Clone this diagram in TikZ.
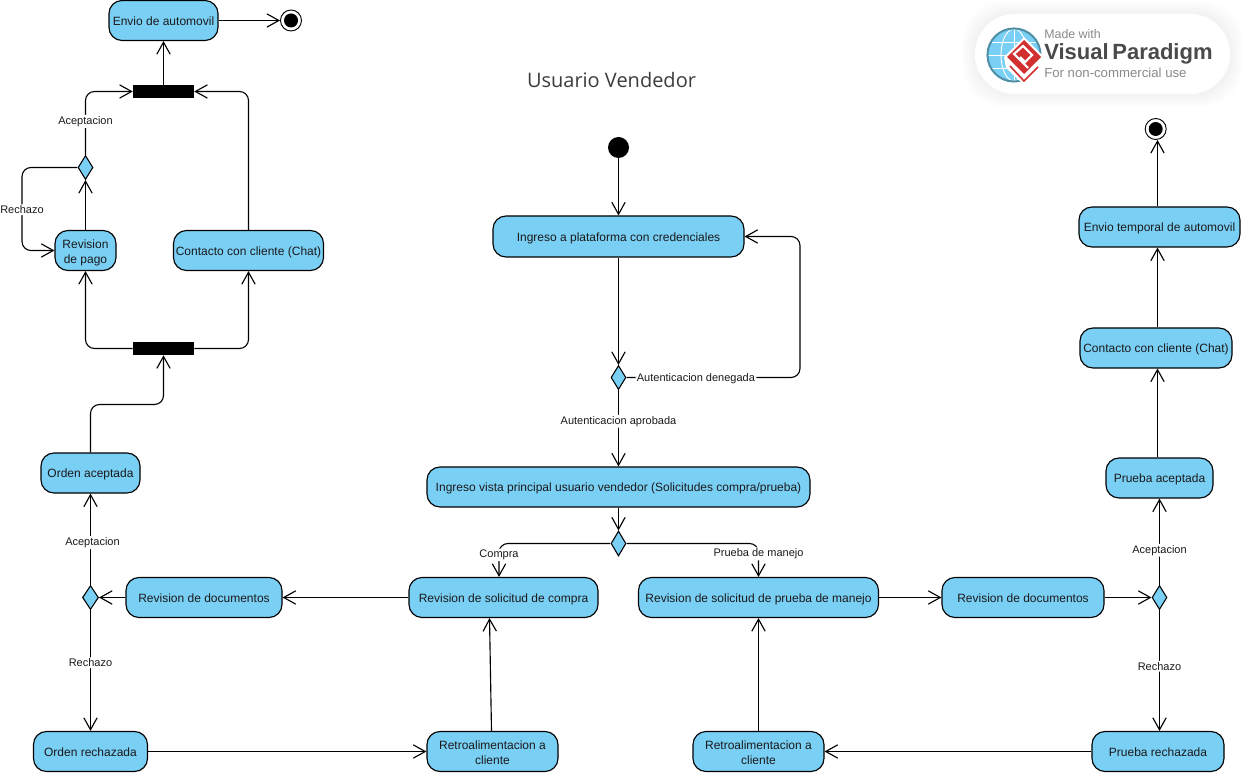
\documentclass[tikz,border=0pt]{standalone}
\usepackage{fontspec}
\setmainfont{Liberation Sans}
\newfontfamily\titlefont{Open Sans}
\usetikzlibrary{arrows.meta,shapes.geometric}
\definecolor{actfill}{HTML}{7ACFF5}
\definecolor{inkc}{HTML}{1A1A1A}
\definecolor{logogray}{HTML}{8A8A8A}
\definecolor{logodark}{HTML}{4A4A4A}
\definecolor{logored}{HTML}{D2302F}
\definecolor{logoteal}{HTML}{4F8FA6}
\def\px{0.75pt}
\newcommand{\twolinedown}{\rule{0pt}{10.5pt}}
\tikzset{
  act/.style={draw=black,fill=actfill,line width=0.85pt,rounded corners=13*\px,inner sep=0pt,align=center,text=inkc,font=\fontsize{9}{11.25}\selectfont,minimum height=40*\px,
    execute at begin node={\rule{0pt}{9.2pt}},execute at end node={\rule[-2.4pt]{0pt}{2.4pt}}},
  dec/.style={draw=black,fill=actfill,line width=0.8pt,diamond,aspect=0.6,inner sep=0pt,minimum width=15*\px,minimum height=24*\px},
  forkbar/.style={fill=black,draw=none,inner sep=0pt,minimum width=61*\px,minimum height=13*\px},
  flow/.style={draw=black,line width=0.85pt,rounded corners=9*\px,-{Straight Barb[length=9pt,width=10pt,line width=0.85pt]}},
  lab/.style={fill=white,inner sep=1pt,text=inkc,yshift=-0.5pt,font=\fontsize{8.25}{9.5}\selectfont},
  startn/.style={circle,fill=black,inner sep=0pt,minimum size=21*\px},
  endn/.style={circle,draw=black,fill=white,line width=0.7pt,inner sep=0pt,minimum size=21*\px},
  endcore/.style={circle,fill=black,inner sep=0pt,minimum size=14*\px},
}
\begin{document}
\begin{tikzpicture}[x=0.75pt,y=-0.75pt]
\useasboundingbox (0,0) rectangle (1242,773);
\fill[white] (0,0) rectangle (1242,773);

% title
\node[font=\titlefont\fontsize{15}{18}\selectfont,text=inkc!85!white] (title) at (611.5,80) {Usuario Vendedor};

% badge
\foreach \g in {12,9,6,3}{
  \fill[black,opacity=0.012,rounded corners=30pt] (975-\g,14-\g) rectangle (1230+\g,94+\g);
}
\fill[white,rounded corners=30pt] (975,14) rectangle (1230,94);
\fill[actfill] (1014,55) circle (19.5pt);
\begin{scope}
  \clip (1014,55) circle (19.5pt);
  \draw[white,line width=0.7pt] (1014,28) -- (1014,82) (988,55) -- (1040,55) (990,42) -- (1038,42) (990,68) -- (1038,68);
  \draw[white,line width=0.7pt] (1014,55) ellipse (9.75pt and 19.5pt);
\end{scope}
\draw[logoteal,line width=1.5pt] (1014,55) circle (19.9pt);
\fill[white] (1024,37) -- (1044,57) -- (1040,70) -- (1024,85) -- (1006,68) -- (1004,57) -- cycle;
\fill[logored] (1024,40) -- (1041,57) -- (1024,74) -- (1007,57) -- cycle;
\draw[logored,line width=1.2pt] (1010,66) -- (1024,81) -- (1038,67);
\draw[white,line width=1.6pt,line join=miter] (1028,68) -- (1014,54) -- (1023,46) -- (1032,55) -- (1025,62) -- (1020,57);
\node[anchor=west,inner sep=0pt,text=logogray,font=\fontsize{9.3}{11}\selectfont] (lg1) at (1044,34.5) {Made with};
\node[anchor=west,inner sep=0pt,text=logodark,font=\bfseries\fontsize{16.5}{18}\selectfont] (lg2) at (1044,53.5) {Visual\,Paradigm};
\node[anchor=west,inner sep=0pt,text=logogray,font=\fontsize{9.9}{11}\selectfont] (lg3) at (1044,73) {For non-commercial use};

% left column
\node[act,minimum width=109*\px] (envio) at (163.5,20.5) {Envio de automovil};
\node[endn] (endA) at (291,20.5) {};
\node[endcore] (endAc) at (291,20.5) {};
\node[forkbar] (barT) at (163.5,91.5) {};
\node[dec] (decT) at (85.5,167.5) {};
\node[act,minimum width=61*\px] (pago) at (85.5,250.5) {\twolinedown Revision\\de pago};
\node[act,minimum width=150*\px] (chatL) at (248.5,250.5) {Contacto con cliente (Chat)};
\node[forkbar] (barB) at (163.5,348.5) {};
\node[act,minimum width=99*\px] (oacep) at (90.5,473) {Orden aceptada};
\node[dec,minimum width=16*\px] (decL) at (90.5,597.5) {};
\node[act,minimum width=156*\px] (docsL) at (204,597.5) {Revision de documentos};
\node[act,minimum width=114*\px] (orech) at (90.5,751.5) {Orden rechazada};
\node[act,minimum width=131*\px] (retroL) at (492.5,751.5) {\twolinedown Retroalimentacion a\\cliente};

% centre column
\node[startn] (start) at (618.5,147.5) {};
\node[act,minimum width=251*\px,minimum height=41*\px] (login) at (618.5,236.5) {Ingreso a plataforma con credenciales};
\node[dec] (decM) at (618.5,377.5) {};
\node[act,minimum width=383*\px] (vista) at (618.5,487) {Ingreso vista principal usuario vendedor (Solicitudes compra/prueba)};
\node[dec,minimum height=25*\px] (decS) at (618.5,543.5) {};
\node[act,minimum width=189*\px] (rcompra) at (503.5,597.5) {Revision de solicitud de compra};
\node[act,minimum width=240*\px] (rprueba) at (758.5,597.5) {Revision de solicitud de prueba de manejo};

% right column
\node[act,minimum width=162*\px] (docsR) at (1023,597.5) {Revision de documentos};
\node[dec] (decR) at (1159.5,597.5) {};
\node[act,minimum width=107*\px] (pacep) at (1159.5,478) {Prueba aceptada};
\node[act,minimum width=152*\px] (chatR) at (1156,348) {Contacto con cliente (Chat)};
\node[act,minimum width=161*\px] (envioT) at (1159.5,227) {Envio temporal de automovil};
\node[endn] (endB) at (1155.7,129) {};
\node[endcore] (endBc) at (1155.7,129) {};
\node[act,minimum width=132*\px] (prech) at (1158,751.5) {Prueba rechazada};
\node[act,minimum width=131*\px] (retroR) at (758.5,751.5) {\twolinedown Retroalimentacion a\\cliente};

% free corner points
\coordinate (cDen) at (800,377.5);
\coordinate (cAcL) at (163.5,404.5);
\coordinate (cRe1) at (22,167.5);
\coordinate (cRe2) at (22,250.5);
\coordinate (cCom) at (499,543.5);
\coordinate (cPru) at (758.5,543.5);
\coordinate (rx) at (1157.5,300);

% connectors: upper left
\draw[flow] (envio.east) -- (endA.west);
\draw[flow] (barT.north) -- (envio.south);
\draw[flow] (decT.north) |- node[lab,pos=0.27] {Aceptacion} (barT.west);
\draw[flow] (chatL.north) |- (barT.east);
\draw[flow] (pago.north) -- (decT.south);
\draw[flow] (decT.west) -- (cRe1) -- node[lab,pos=0.5] {Rechazo} (cRe2) -- (pago.west);
\draw[flow] (barB.west) -| (pago.south);
\draw[flow] (barB.east) -| (chatL.south);
\draw[flow] (oacep.north) |- (cAcL) -- (barB.south);

% connectors: lower left
\draw[flow] (decL.north) -- node[lab,pos=0.47,xshift=1.5pt] {Aceptacion} (oacep.south);
\draw[flow] (decL.south) -- node[lab,pos=0.43] {Rechazo} (orech.north);
\draw[flow] (docsL.west) -- (decL.east);
\draw[flow] (rcompra.west) -- (docsL.east);
\draw[flow] (orech.east) -- (retroL.west);
\draw[flow] ([xshift=-1*\px]retroL.north) -- ([xshift=-14*\px]rcompra.south);

% connectors: centre
\draw[flow] (start.south) -- (login.north);
\draw[flow] (login.south) -- (decM.north);
\draw[flow] (decM.east) -- node[lab,pos=0.40] {Autenticacion denegada} (cDen) |- (login.east);
\draw[flow] (decM.south) -- node[lab,pos=0.40] {Autenticacion aprobada} (vista.north);
\draw[flow] (vista.south) -- (decS.north);
\draw[flow] (decS.west) -- (cCom) -- node[lab,pos=0.32] {Compra} ([xshift=-4.5*\px]rcompra.north);
\draw[flow] (decS.east) -- (cPru) -- node[lab,pos=0.29] {Prueba de manejo} (rprueba.north);

% connectors: right
\draw[flow] (rprueba.east) -- (docsR.west);
\draw[flow] (docsR.east) -- (decR.west);
\draw[flow] (decR.north) -- node[lab,pos=0.41] {Aceptacion} (pacep.south);
\draw[flow] (decR.south) -- node[lab,pos=0.46] {Rechazo} (decR.south |- prech.north);
\draw[flow] (pacep.north -| rx) -- (chatR.south -| rx);
\draw[flow] (chatR.north -| rx) -- (envioT.south -| rx);
\draw[flow] (envioT.north -| rx) -- (endB.south -| rx);
\draw[flow] (prech.west) -- (retroR.east);
\draw[flow] (retroR.north) -- (rprueba.south);
\end{tikzpicture}
\end{document}
